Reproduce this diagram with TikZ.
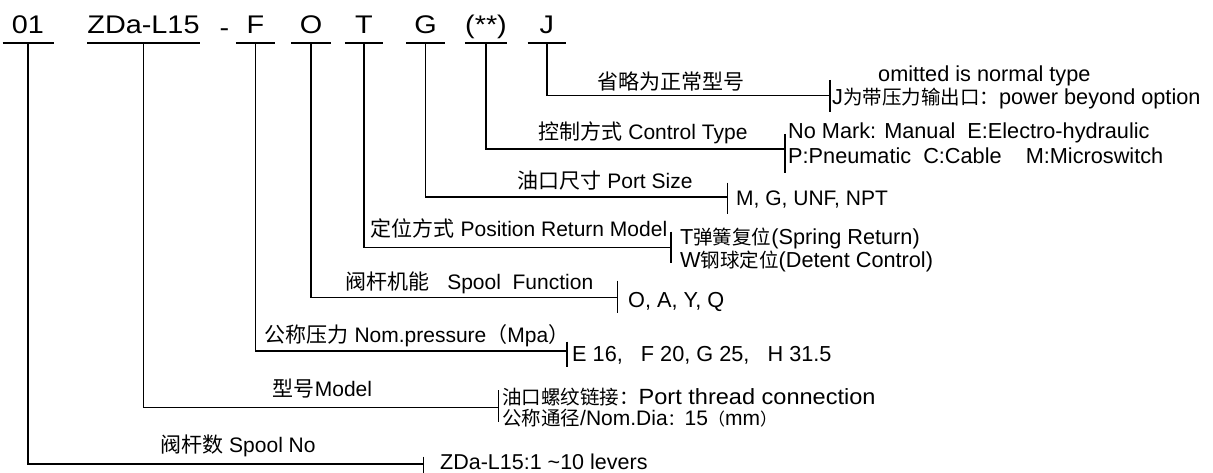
\documentclass[tikz,border=0pt]{standalone}
\usepackage{fontspec}
\setmainfont{Liberation Sans}
\newfontfamily\cjk{Noto Sans CJK SC}
\newfontfamily\codefam[FakeStretch=1.13]{Liberation Sans}
\newfontfamily\widefam[FakeStretch=1.07]{Liberation Sans}
% Chinese text inside the option notes
\newcommand{\zhs}[1]{{\cjk\fontsize{19.5}{19.5}\selectfont #1}}
\newcommand{\zhp}[1]{{\cjk\fontsize{17}{17}\selectfont #1}}

\tikzset{
  code/.style={font=\codefam\fontsize{25.5}{25.5}\selectfont, inner xsep=0pt,
    inner ysep=10pt, text height=18pt, text depth=0pt, anchor=south},
  lbl/.style={font=\fontsize{21}{21}\selectfont, inner sep=0pt, anchor=base},
  note/.style={font=\fontsize{21.7}{21.7}\selectfont, inner sep=0pt, anchor=base west},
  wide/.style={font=\widefam\fontsize{22}{22}\selectfont},
  wire/.style={line width=1.6pt},
}

\begin{document}
\begin{tikzpicture}[x=1pt,y=-1pt]
    \useasboundingbox (0,0) rectangle (1213,473);
    % type code
    \node[code, minimum width=50.6pt] (n01) at (28,43.3) {01};
    \node[code, minimum width=73pt] (zda) at (143.5,43.3) {ZDa-L15};
    \node[lbl, font=\codefam\fontsize{25.5}{25.5}\selectfont] (dash) at (224.5,36.7) {-};
    \node[code, minimum width=39pt] (f) at (255.5,43.3) {F};
    \node[code, minimum width=39pt] (o) at (311,43.3) {O};
    \node[code, minimum width=38pt] (t) at (364,43.3) {T};
    \node[code, minimum width=38pt] (g) at (425.5,43.3) {G};
    \node[code, minimum width=38pt] (star) at (486,43.3) {(**)};
    \node[code, minimum width=38pt] (j) at (546.7,43.3) {J};
    \draw[wire] (n01.south west) -- (n01.south east);
    \draw[wire] (zda.south west) -- (zda.south east);
    \draw[wire] (f.south west) -- (f.south east);
    \draw[wire] (o.south west) -- (o.south east);
    \draw[wire] (t.south west) -- (t.south east);
    \draw[wire] (g.south west) -- (g.south east);
    \draw[wire] (star.south west) -- (star.south east);
    \draw[wire] (j.south west) -- (j.south east);

    % J
    \coordinate (tj) at (830,95.5);
    \node[lbl] (jl) at (671,89.5) {\cjk 省略为正常型号};
    \node[note] (jr1) at (878,81.5) {omitted is normal type};
    \node[note] (jr2) at (832,105) {J\zhs{为带压力输出口：}power beyond option};
    \draw[wire] (j.south) |- (tj);
    \draw[wire] ([yshift=15.5pt]tj) -- ([yshift=-16.8pt]tj);

    % control type
    \coordinate (tstar) at (785,149.3);
    \node[lbl] (cl) at (643,140) {{\cjk 控制方式} Control Type};
    \node[note] (cr1) at (788,139) {No Mark: Manual\ \ E:Electro-hydraulic};
    \node[note] (cr2) at (788,164) {P:Pneumatic\ \ C:Cable\ \ \ \ M:Microswitch};
    \draw[wire] (star.south) |- (tstar);
    \draw[wire] ([yshift=15.3pt]tstar) -- ([yshift=-24pt]tstar);

    % port size
    \coordinate (tg) at (727.5,197.3);
    \node[lbl] (gl) at (605,189) {{\cjk 油口尺寸} Port Size};
    \node[note, font=\fontsize{21}{21}\selectfont] (gr) at (736,206) {M, G, UNF, NPT};
    \draw[wire] (g.south) |- (tg);
    \draw[wire] ([yshift=14.6pt]tg) -- ([yshift=-16.7pt]tg);

    % position return
    \coordinate (tt) at (670.7,247.7);
    \node[lbl] (tl) at (519,236.7) {{\cjk 定位方式} Position Return Model};
    \node[note] (tr1) at (680,244) {T\zhs{弹簧复位}(Spring Return)};
    \node[note] (tr2) at (680,267.5) {W\zhs{钢球定位}(Detent Control)};
    \draw[wire] (t.south) |- (tt);
    \draw[wire] ([yshift=16pt]tt) -- ([yshift=-15pt]tt);

    % spool function
    \coordinate (to) at (617.3,297.3);
    \node[lbl] (ol) at (469.5,289) {{\cjk 阀杆机能}\ \ \ Spool\ \ Function};
    \node[note] (or) at (628,307) {O, A, Y, Q};
    \draw[wire] (o.south) |- (to);
    \draw[wire] ([yshift=16.6pt]to) -- ([yshift=-16pt]to);

    % pressure
    \coordinate (tf) at (566.7,351);
    \node[lbl] (fl) at (417,342.5) {{\cjk 公称压力} Nom.pressure{\cjk （}Mpa{\cjk ）}};
    \node[note] (fr) at (572,361) {E 16,\ \ \ F 20, G 25,\ \ \ H 31.5};
    \draw[wire] (f.south) |- (tf);
    \draw[wire] ([yshift=9.3pt]tf) -- ([yshift=-15.7pt]tf);

    % model
    \coordinate (tz) at (498.3,407.3);
    \node[lbl] (zl) at (322.5,396) {{\cjk 型号}Model};
    \node[note, wide] (zr1) at (502,404) {\zhs{油口螺纹链接：}Port thread connection};
    \node[note, font=\fontsize{21}{21}\selectfont] (zr2) at (502,425) {\zhs{公称通径}/Nom.Dia\zhp{：}15\zhp{（}mm\zhp{）}};
    \draw[wire] (zda.south) |- (tz);
    \draw[wire] ([yshift=17.3pt]tz) -- ([yshift=-14.4pt]tz);

    % spool number
    \coordinate (tn) at (423.3,464);
    \node[lbl] (nl) at (238,452.5) {{\cjk 阀杆数} Spool No};
    \node[note, font=\fontsize{21.5}{21.5}\selectfont] (nr) at (440,469.5) {ZDa-L15:1 \textasciitilde10 levers};
    \draw[wire] (n01.south) |- (tn);
    \draw[wire] ([yshift=7.3pt]tn) -- ([yshift=-9pt]tn);
\end{tikzpicture}
\end{document}
